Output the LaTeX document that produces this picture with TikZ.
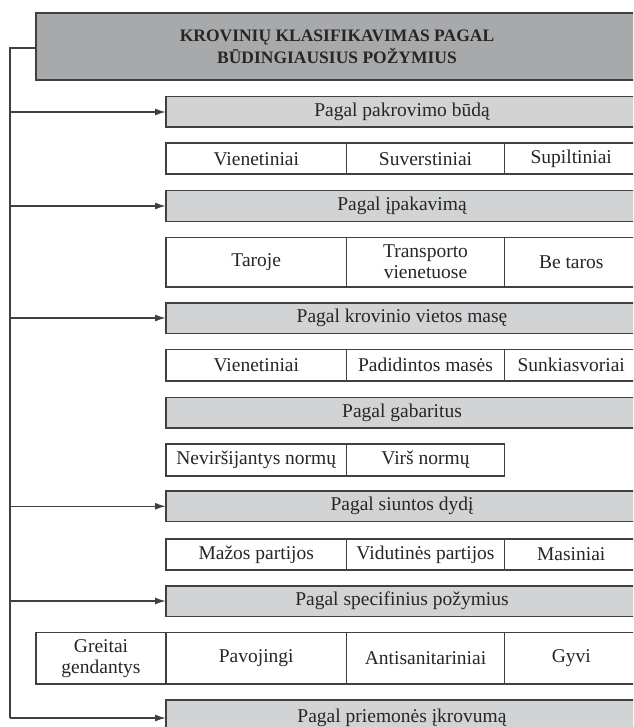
\documentclass[tikz,border=0pt]{standalone}
\usepackage{fontspec}
\setmainfont{Liberation Serif}
\usetikzlibrary{arrows.meta}
\definecolor{linec}{HTML}{404040}
\definecolor{titlefill}{HTML}{A8A9AB}
\definecolor{catfill}{HTML}{D2D3D5}
\definecolor{txt}{HTML}{262626}
\tikzset{
  boxbase/.style={draw=linec, line width=1.6pt, inner sep=0pt, outer sep=0pt,
    anchor=north west, text=txt, align=center,
    font=\fontsize{19.5}{21}\selectfont},
  titlebox/.style={boxbase, fill=titlefill, line width=2pt,
    font=\fontsize{17.5}{21.5}\selectfont\bfseries},
  catbox/.style={boxbase, fill=catfill, minimum height=30.6pt},
  cellbox/.style={boxbase, fill=white},
  link/.style={draw=linec, line width=1.5pt},
  arr/.style={link, -{Latex[length=11pt,width=7pt]}}
}
\begin{document}
\begin{tikzpicture}[x=1pt,y=-1pt]
\clip (0,0) rectangle (633,727);
\useasboundingbox (0,0) rectangle (633,727);
% title
\node[titlebox, minimum width=602pt, minimum height=66.7pt] (title) at (36,13.3)
  {KROVINIŲ KLASIFIKAVIMAS PAGAL\\BŪDINGIAUSIUS POŽYMIUS};
% categories
\node[catbox, minimum width=472pt] (c1) at (166,96.7) {Pagal pakrovimo būdą};
\node[catbox, minimum width=472pt] (c2) at (166,190.7) {Pagal įpakavimą};
\node[catbox, minimum width=472pt] (c3) at (166,302.7) {Pagal krovinio vietos masę};
\node[catbox, minimum width=472pt] (c4) at (166,397.3) {Pagal gabaritus};
\node[catbox, minimum width=472pt] (c5) at (166,491) {Pagal siuntos dydį};
\node[catbox, minimum width=472pt] (c6) at (166,585.7) {Pagal specifinius požymius};
\node[catbox, minimum width=472pt, minimum height=36pt] (c7) at (166,700) {Pagal priemonės įkrovumą};
% row 1
\node[cellbox, minimum width=180.5pt, minimum height=31pt] (r1a) at (166,143.3) {Vienetiniai};
\node[cellbox, minimum width=158pt, minimum height=31pt] (r1b) at (346.5,143.3) {Suverstiniai};
\node[cellbox, minimum width=133.5pt, minimum height=31pt] (r1c) at (504.5,143.3) {Supiltiniai};
% row 2
\node[cellbox, minimum width=180.5pt, minimum height=49.4pt] (r2a) at (166,237.3) {Taroje};
\node[cellbox, minimum width=158pt, minimum height=49.4pt] (r2b) at (346.5,237.3) {Transporto\\vienetuose};
\node[cellbox, minimum width=133.5pt, minimum height=49.4pt] (r2c) at (504.5,237.3) {Be taros};
% row 3
\node[cellbox, minimum width=180.5pt, minimum height=31.4pt] (r3a) at (166,349.3) {Vienetiniai};
\node[cellbox, minimum width=158pt, minimum height=31.4pt] (r3b) at (346.5,349.3) {Padidintos masės};
\node[cellbox, minimum width=133.5pt, minimum height=31.4pt] (r3c) at (504.5,349.3) {Sunkiasvoriai};
% row 4
\node[cellbox, minimum width=180.5pt, minimum height=31.7pt] (r4a) at (166,444) {Neviršijantys normų};
\node[cellbox, minimum width=158pt, minimum height=31.7pt] (r4b) at (346.5,444) {Virš normų};
% row 5
\node[cellbox, minimum width=180.5pt, minimum height=31pt] (r5a) at (166,539) {Mažos partijos};
\node[cellbox, minimum width=158pt, minimum height=31pt] (r5b) at (346.5,539) {Vidutinės partijos};
\node[cellbox, minimum width=133.5pt, minimum height=31pt] (r5c) at (504.5,539) {Masiniai};
% row 6
\node[cellbox, minimum width=130pt, minimum height=51.7pt] (r6a) at (36,632.3) {Greitai\\gendantys};
\node[cellbox, minimum width=180.5pt, minimum height=51.7pt] (r6b) at (166,632.3) {Pavojingi};
\node[cellbox, minimum width=158pt, minimum height=51.7pt] (r6c) at (346.5,632.3) {Antisanitariniai};
\node[cellbox, minimum width=133.5pt, minimum height=51.7pt] (r6d) at (504.5,632.3) {Gyvi};
% trunk and arrows
\coordinate (tb) at (10,718);
\draw[link] ([yshift=-1.6pt]title.west) -| (tb);
\draw[arr] (tb |- c1.west) -- (c1.west);
\draw[arr] (tb |- c2.west) -- (c2.west);
\draw[arr] (tb |- c3.west) -- (c3.west);
\draw[arr] (tb |- c5.west) -- (c5.west);
\draw[arr] (tb |- c6.west) -- (c6.west);
\draw[arr] (tb) -- (tb -| c7.west);
\end{tikzpicture}
\end{document}
